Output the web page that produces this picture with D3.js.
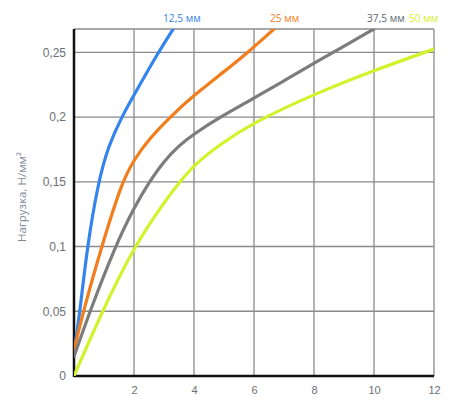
<!DOCTYPE html>
<html>
<head>
<meta charset="utf-8">
<script src="https://cdn.jsdelivr.net/npm/d3@7"></script>
<style>
    body { margin: 0; background: #fff; }
    svg { display: block; font-family: "Open Sans", sans-serif; }
</style>
</head>
<body>
<div id="chart"></div>
<script>
// deformation, mm  /  load, N/mm2 for each thickness
var blueX = [0, 0.2, 0.44, 0.81, 1.15, 1.59, 2, 2.81, 3.31];
var blueY = [0.018, 0.05, 0.1, 0.15, 0.178, 0.2, 0.217, 0.25, 0.268];

var orangeX = [0, 0.31, 0.92, 1.6, 2, 2.5, 3.2, 4, 5, 5.8, 6.67];
var orangeY = [0.02, 0.05, 0.1, 0.15, 0.167, 0.183, 0.2, 0.217, 0.235, 0.25, 0.268];

var grayX = [0, 0.53, 1.37, 2, 2.51, 3, 3.5, 4, 4.87, 6, 7, 8, 8.7, 10];
var grayY = [0.015, 0.05, 0.1, 0.13, 0.15, 0.166, 0.178, 0.187, 0.2, 0.2146, 0.228, 0.2415, 0.2508, 0.268];

var limeX = [0, 0.94, 2, 3.06, 3.53, 4, 4.87, 6, 8, 10, 12];
var limeY = [0, 0.05, 0.1, 0.136, 0.15, 0.163, 0.179, 0.196, 0.2177, 0.236, 0.2525];

var seriesNames = ["12,5 мм", "25 мм", "37,5 мм", "50 мм"];
var xTicks = [2, 4, 6, 8, 10, 12];
var yTicks = [0, 0.05, 0.1, 0.15, 0.2, 0.25];
var yTitle = "Нагрузка, Н/мм²";

var renderChart = {
    lines: function ($location) {
        var w = 470,
            h = 400,
            margin = { top: 29, right: 36, bottom: 24, left: 74 },
            iw = w - margin.left - margin.right,
            ih = h - margin.top - margin.bottom;

        var svg = d3.select($location)
            .append("svg")
            .attr("width", w)
            .attr("height", h);

        var x = d3.scaleLinear().domain([0, 12]).range([0, iw]);
        var y = d3.scaleLinear().domain([0, 0.268]).range([ih, 0]);

        var g = svg.append("g")
            .attr("transform", "translate(" + margin.left + "," + margin.top + ")");

        var fmt = function (d) { return d === 0 ? "0" : String(d).replace(".", ","); };

        // grid
        g.selectAll("line.vgrid")
            .data(xTicks)
            .enter()
            .append("line")
            .attr("class", "vgrid")
            .attr("x1", function (d) { return x(d); })
            .attr("x2", function (d) { return x(d); })
            .attr("y1", 0)
            .attr("y2", ih)
            .attr("stroke", "#8a8a8a")
            .attr("stroke-width", 1.3);

        g.selectAll("line.hgrid")
            .data(yTicks.filter(function (d) { return d > 0; }).concat([0.268]))
            .enter()
            .append("line")
            .attr("class", "hgrid")
            .attr("x1", 0)
            .attr("x2", iw)
            .attr("y1", function (d) { return y(d); })
            .attr("y2", function (d) { return y(d); })
            .attr("stroke", "#8a8a8a")
            .attr("stroke-width", 1.3);

        // axes
        var xAxis = d3.axisBottom(x).tickValues(xTicks).tickSize(0).tickPadding(10).tickFormat(fmt);
        var yAxis = d3.axisLeft(y).tickValues(yTicks).tickSize(0).tickPadding(8).tickFormat(fmt);

        var gx = g.append("g").attr("transform", "translate(0," + ih + ")").call(xAxis);
        var gy = g.append("g").call(yAxis);

        [gx, gy].forEach(function (a) {
            a.select(".domain").remove();
            a.selectAll("text").attr("fill", "#6b7075");
        });
        gx.selectAll("text").style("font-size", "11px");
        gy.selectAll("text").style("font-size", "12px");

        g.append("line")
            .attr("x1", 0).attr("x2", 0)
            .attr("y1", 0).attr("y2", ih + 1)
            .attr("stroke", "#111").attr("stroke-width", 2.5);
        g.append("line")
            .attr("x1", 0).attr("x2", iw)
            .attr("y1", ih).attr("y2", ih)
            .attr("stroke", "#111").attr("stroke-width", 2.5);

        // curves
        g.append("clipPath").attr("id", "plot-clip")
            .append("rect").attr("width", iw).attr("height", ih);

        var series = [
            { xs: blueX, ys: blueY, color: "#3384ec", label: seriesNames[0], lx: 163, lc: "#3384ec" },
            { xs: orangeX, ys: orangeY, color: "#f27d1c", label: seriesNames[1], lx: 270, lc: "#f27d1c" },
            { xs: grayX, ys: grayY, color: "#7c7c7c", label: seriesNames[2], lx: 367, lc: "#5d6870" },
            { xs: limeX, ys: limeY, color: "#d2f22c", label: seriesNames[3], lx: 409, lc: "#d2f22c" }
        ];

        var line = d3.line()
            .x(function (d) { return x(d[0]); })
            .y(function (d) { return y(d[1]); })
            .curve(d3.curveBasis);

        g.selectAll("path.curve")
            .data(series)
            .enter()
            .append("path")
            .attr("class", "curve")
            .attr("clip-path", "url(#plot-clip)")
            .attr("d", function (s) { return line(d3.zip(s.xs, s.ys)); })
            .attr("fill", "none")
            .attr("stroke", function (s) { return s.color; })
            .attr("stroke-width", 3.2)
            .attr("stroke-linecap", "round");

        svg.selectAll("text.series")
            .data(series)
            .enter()
            .append("text")
            .attr("class", "series")
            .attr("x", function (s) { return s.lx; })
            .attr("y", 22)
            .attr("fill", function (s) { return s.lc; })
            .style("font-size", "10.2px")
            .text(function (s) { return s.label; });

        svg.append("text")
            .attr("transform", "translate(26,197) rotate(-90)")
            .attr("text-anchor", "middle")
            .attr("fill", "#7d8a96")
            .style("font-size", "11.5px")
            .text(yTitle);
    }
};

renderChart.lines("#chart");
</script>
</body>
</html>
